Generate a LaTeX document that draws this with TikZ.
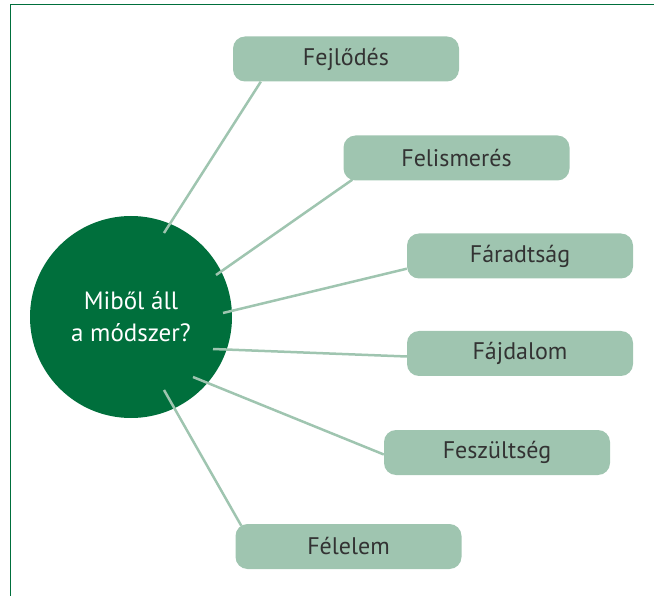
\documentclass[tikz,border=0pt]{standalone}
\usepackage{fontspec}
\setmainfont{PT Sans}
\usepackage{tikz}
\definecolor{darkgreen}{HTML}{006F3C}
\definecolor{palegreen}{HTML}{9FC5B0}
\definecolor{boxtext}{HTML}{333333}
\tikzstyle{topic}=[shape=rectangle,rounded corners=12pt,fill=palegreen,minimum width=226pt,minimum height=45pt,text=boxtext,font=\fontsize{24}{28}\selectfont]
\tikzstyle{hub}=[shape=circle,fill=darkgreen,minimum size=202pt,inner sep=0pt,text=white,align=center,font=\fontsize{25}{32}\selectfont]
\tikzstyle{spoke}=[draw=palegreen,line width=2.5pt]
\tikzstyle{frame}=[draw=darkgreen,line width=1pt]

\begin{document}
\begin{tikzpicture}[x=1pt,y=-1pt]
            \useasboundingbox (0,0) rectangle (654,596);
            \draw[frame] (654,5) -- (10,5) -- (10,596);

            \node[hub] (M) at (131,317) {Miből áll\\a módszer?};

            \node[topic] (Fej) at (346,59) {Fejlődés};
            \node[topic] (Fel) at (456.5,158) {Felismerés};
            \node[topic] (Far) at (520,256) {Fáradtság};
            \node[topic] (Faj) at (520,353.5) {Fájdalom};
            \node[topic] (Fesz) at (497,452.5) {Feszültség};
            \node[topic] (Fele) at (348.5,546.5) {Félelem};

            \coordinate (m1) at (164,233);
            \coordinate (m2) at (216,275);
            \coordinate (m3) at (223,313);
            \coordinate (m4) at (213,349);
            \coordinate (m5) at (193,377);
            \coordinate (m6) at (164,390);

            \draw[spoke] (m1) -- ([xshift=28pt]Fej.south west);
            \draw[spoke] (m2) -- ([xshift=9pt,yshift=1pt]Fel.south west);
            \draw[spoke] (m3) -- ([yshift=10pt]Far.south west);
            \draw[spoke] (m4) -- ([yshift=-3pt]Faj.west);
            \draw[spoke] (m5) -- ([yshift=-2pt]Fesz.west);
            \draw[spoke] (m6) -- ([xshift=6pt,yshift=-2pt]Fele.north west);
        \end{tikzpicture}
\end{document}
